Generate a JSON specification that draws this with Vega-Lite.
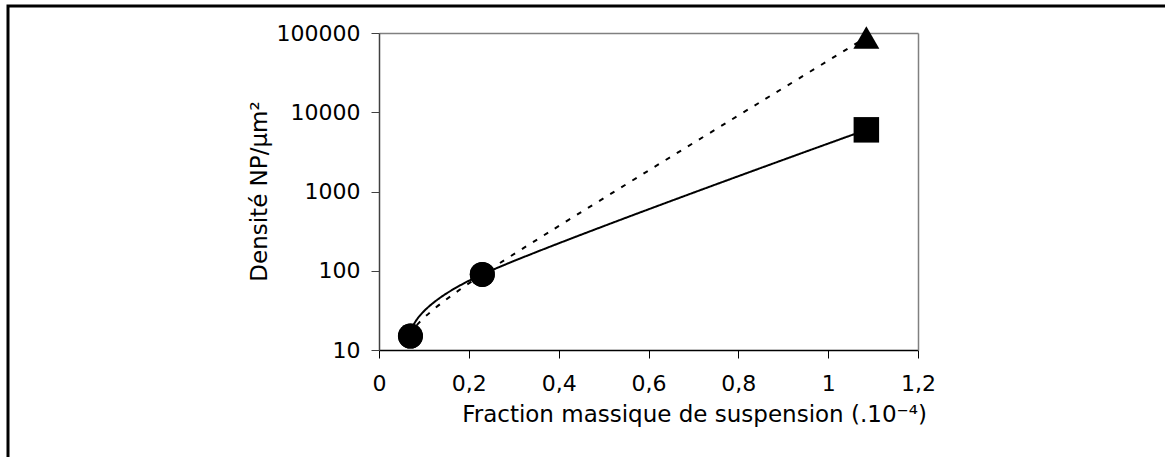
{
  "$schema": "https://vega.github.io/schema/vega-lite/v6.json",
  "width": 1163,
  "height": 458,
  "autosize": {"type": "none"},
  "padding": {"left": 8, "top": 6, "right": 0, "bottom": 0},
  "background": "white",
  "config": {
    "view": {"stroke": "#000000", "strokeWidth": 3},
    "font": "DejaVu Sans",
    "axis": {"labelFont": "DejaVu Sans", "titleFont": "DejaVu Sans", "labelColor": "#000000", "titleColor": "#000000", "titleFontWeight": "normal"}
  },
  "data": {
    "values": [
      {"serie": "A", "fraction": 0.07, "densite": 15, "forme": "circle"},
      {"serie": "A", "fraction": 0.23, "densite": 90, "forme": "circle"},
      {"serie": "A", "fraction": 1.085, "densite": 6000, "forme": "square"},
      {"serie": "B", "fraction": 0.07, "densite": 15, "forme": "circle"},
      {"serie": "B", "fraction": 0.23, "densite": 90, "forme": "circle"},
      {"serie": "B", "fraction": 1.085, "densite": 88000, "forme": "triangle-up"}
    ]
  },
  "encoding": {
    "x": {
      "field": "fraction",
      "type": "quantitative",
      "scale": {"domain": [0, 1.2], "range": [371, 910], "nice": false, "zero": false},
      "axis": {
        "values": [0, 0.2, 0.4, 0.6, 0.8, 1, 1.2],
        "labelExpr": "replace(format(datum.value, '.1~f'), '.', ',')",
        "offset": -114,
        "domainColor": "#000000",
        "domainWidth": 1.5,
        "tickColor": "#000000",
        "tickSize": 8,
        "tickWidth": 1,
        "labelFontSize": 22,
        "labelPadding": 15,
        "labelFlush": false,
        "labelOverlap": false,
        "grid": false,
        "title": "Fraction massique de suspension (.10⁻⁴)",
        "titleFontSize": 23,
        "titleX": 686,
        "titleY": 71,
        "titleAlign": "center",
        "titleBaseline": "alphabetic"
      }
    }
  },
  "layer": [
    {
      "mark": {"type": "line", "interpolate": "cardinal", "color": "#000000", "strokeWidth": 2},
      "encoding": {
        "y": {
          "field": "densite",
          "type": "quantitative",
          "scale": {"type": "log", "domain": [10, 100000], "range": [344, 27], "nice": false},
          "axis": {
            "orient": "left",
            "values": [10, 100, 1000, 10000, 100000],
            "format": "d",
            "offset": -371,
            "domainColor": "#404040",
            "domainWidth": 1.5,
            "tickColor": "#404040",
            "tickSize": 8,
            "tickWidth": 1,
            "labelFontSize": 22,
            "labelPadding": 11,
            "labelOverlap": false,
            "grid": true,
            "gridColor": "#808080",
            "gridWidth": 1.5,
            "gridOpacity": {"condition": {"test": "datum.value == 100000", "value": 1}, "value": 0},
            "title": "Densité NP/µm²",
            "titleFontSize": 23,
            "titleAngle": -90,
            "titleX": -113,
            "titleY": 185,
            "titleAlign": "center",
            "titleBaseline": "alphabetic"
          }
        },
        "strokeDash": {"field": "serie", "type": "nominal", "scale": {"domain": ["A", "B"], "range": [[1, 0], [5, 8]]}, "legend": null}
      }
    },
    {
      "mark": {"type": "point", "filled": true, "color": "#000000", "opacity": 1},
      "encoding": {
        "y": {
          "field": "densite",
          "type": "quantitative",
          "scale": {"type": "log", "domain": [10, 100000], "range": [344, 27], "nice": false},
          "axis": {
            "orient": "right",
            "offset": -253,
            "domain": true,
            "domainColor": "#808080",
            "domainWidth": 1.5,
            "ticks": false,
            "labels": false,
            "grid": false,
            "title": null
          }
        },
        "shape": {"field": "forme", "type": "nominal", "scale": {"domain": ["circle", "square", "triangle-up"], "range": ["circle", "square", "triangle-up"]}, "legend": null},
        "size": {"field": "forme", "type": "nominal", "scale": {"domain": ["circle", "square", "triangle-up"], "range": [625, 676, 800]}, "legend": null}
      }
    }
  ],
  "resolve": {"axis": {"y": "independent"}}
}
